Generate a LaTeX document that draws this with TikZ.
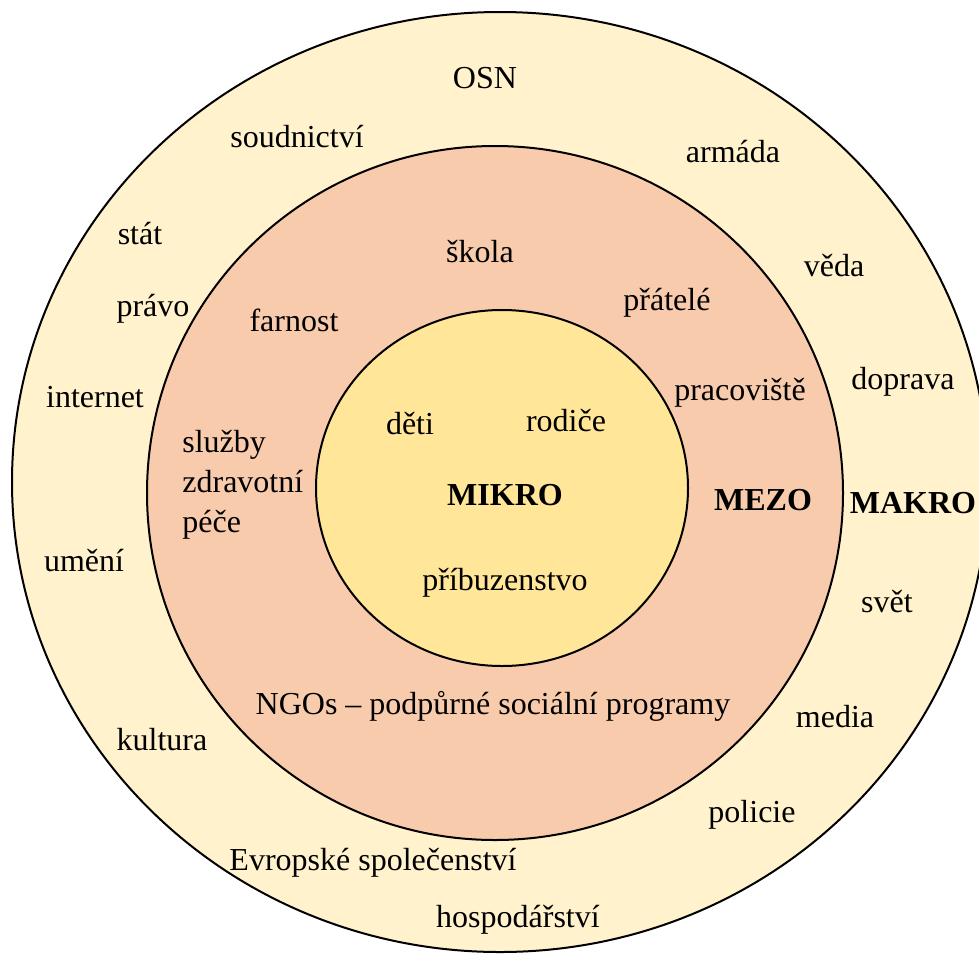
\documentclass[tikz,border=0pt]{standalone}
\usepackage{fontspec}
\setmainfont{Liberation Serif}
\usetikzlibrary{positioning}
\definecolor{makrofill}{RGB}{255,242,204}
\definecolor{mezofill}{RGB}{248,203,173}
\definecolor{mikrofill}{RGB}{255,230,153}

\begin{document}
\begin{tikzpicture}[x=0.5pt, y=-0.5pt,
    ring/.style={draw=black, line width=1pt},
    term/.style={inner sep=0pt, anchor=base, font=\fontsize{16}{20}\selectfont},
    tier/.style={term, font=\fontsize{16}{20}\selectfont\bfseries}
]
\useasboundingbox (0,0) rectangle (979,959);
\clip (0,0) rectangle (979,959);
% rings
\draw[ring, fill=makrofill] (500,482) ellipse [x radius=488, y radius=470];
\draw[ring, fill=mezofill] (495,493) ellipse [x radius=348, y radius=347];
\draw[ring, fill=mikrofill] (502,488) ellipse [x radius=186, y radius=178];
% makro
\node[term] (osn) at (485,88) {OSN};
\node[term] (soud) at (297,147) {soudnictví};
\node[term] (armada) at (733,162) {armáda};
\node[term] (stat) at (140,244) {stát};
\node[term] (veda) at (834,276) {věda};
\node[term] (pravo) at (153,316) {právo};
\node[term] (doprava) at (903,389) {doprava};
\node[term] (internet) at (95,407) {internet};
\node[tier] (makro) at (913,513) {MAKRO};
\node[term] (umeni) at (84,571) {umění};
\node[term] (svet) at (887,612) {svět};
\node[term] (media) at (835,727) {media};
\node[term] (kultura) at (162,750) {kultura};
\node[term] (policie) at (752,822) {policie};
\node[term] (es) at (373,870) {Evropské společenství};
\node[term] (hosp) at (518,927) {hospodářství};
% mezo
\node[term] (skola) at (480,262) {škola};
\node[term] (pratele) at (667,310) {přátelé};
\node[term] (farnost) at (294,331) {farnost};
\node[term] (prac) at (740,400) {pracoviště};
\node[term, anchor=west, align=left] (sluzby) at (182,485) {služby\\zdravotní\\péče};
\node[tier] (mezo) at (763,510) {MEZO};
\node[term] (ngo) at (493,714) {NGOs -- podpůrné sociální programy};
% mikro
\node[term] (deti) at (410,434) {děti};
\node[term] (rodice) at (566,431) {rodiče};
\node[tier] (mikro) at (505,505) {MIKRO};
\node[term] (pribuz) at (505,590) {příbuzenstvo};
\end{tikzpicture}
\end{document}
